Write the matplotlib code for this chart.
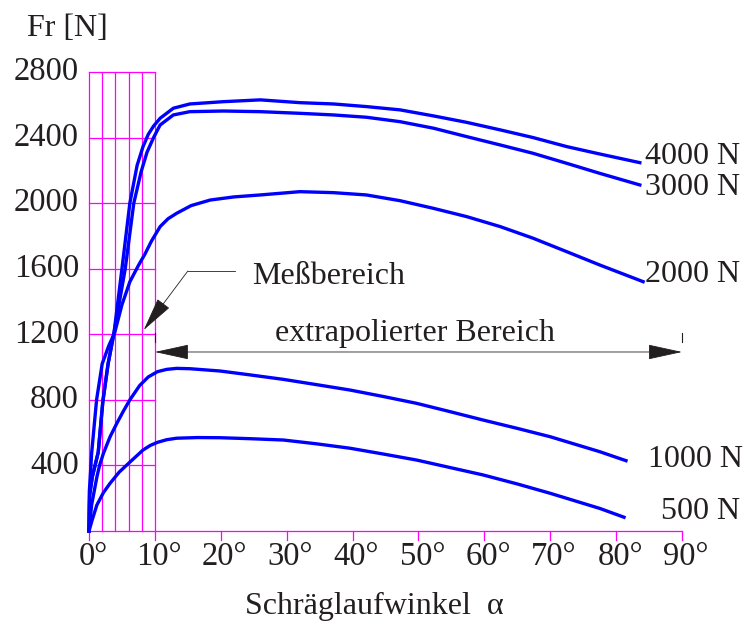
import matplotlib.pyplot as plt

# Seitenführungskraft über Schräglaufwinkel für verschiedene Radlasten
alpha_4000 = [0, 0.1, 0.5, 1.4, 2.1, 2.9, 3.8, 5.0, 6.2, 7.3, 8.2, 9.0, 9.8, 10.8, 12.8, 15.3, 20.4, 26.0, 32.0,
              37.1, 42.1, 47.2, 52.3, 57.3, 62.4, 67.4, 72.5, 77.5, 83.6]
fr_4000 = [0, 220, 330, 480, 790, 1020, 1210, 1600, 2000, 2230, 2345, 2420, 2470, 2518, 2579, 2605, 2619, 2630, 2613,
           2605, 2589, 2569, 2532, 2493, 2447, 2400, 2345, 2300, 2247]

alpha_3000 = [0, 0.1, 0.5, 1.4, 2.1, 2.9, 3.8, 5.5, 6.8, 7.9, 8.8, 9.8, 10.8, 12.8, 15.3, 20.4, 26.0, 32.0,
              37.1, 42.1, 47.2, 52.3, 57.3, 62.4, 67.4, 72.5, 77.5, 83.6]
fr_3000 = [0, 220, 330, 480, 790, 1020, 1210, 1600, 2000, 2190, 2310, 2400, 2477, 2538, 2558, 2562, 2558, 2548,
           2538, 2524, 2497, 2457, 2406, 2355, 2304, 2243, 2182, 2111]

alpha_2000 = [0, 0.05, 0.4, 1.15, 2.0, 3.0, 3.9, 5.0, 6.2, 7.5, 8.5, 9.5, 10.8, 12.0, 13.3, 15.5, 18.4, 22.0,
              26.0, 32.0, 37.1, 42.1, 47.2, 52.2, 57.3, 62.4, 67.4, 72.5, 77.5, 84.1]
fr_2000 = [0, 240, 474, 800, 1020, 1130, 1210, 1380, 1520, 1620, 1690, 1770, 1857, 1905, 1938, 1985, 2019, 2038,
           2050, 2070, 2064, 2050, 2015, 1969, 1918, 1857, 1786, 1704, 1623, 1521]

alpha_1000 = [0, 0.4, 1.2, 1.6, 2.2, 3.2, 4.2, 5.2, 6.2, 7.7, 9.0, 10.4, 11.8, 13.3, 15.3, 19.9, 24.5, 29.5,
              34.5, 39.6, 44.6, 49.7, 54.7, 59.8, 65.0, 70.0, 77.5, 81.5]
fr_1000 = [0, 160, 330, 400, 475, 575, 655, 730, 800, 888, 940, 972, 986, 992, 990, 976, 952, 925,
           893, 860, 821, 779, 729, 677, 626, 575, 484, 429]

alpha_500 = [0, 0.5, 1.2, 2.2, 3.2, 4.6, 6.2, 8.2, 9.3, 10.4, 11.8, 13.3, 16.5, 19.9, 24.5, 29.5, 34.5, 39.6,
             44.6, 49.7, 54.7, 59.8, 65.0, 70.0, 77.5, 81.2]
fr_500 = [0, 70, 159, 235, 291, 360, 420, 494, 522, 541, 557, 566, 570, 569, 563, 555, 532, 505,
          470, 433, 388, 342, 287, 230, 138, 84]

curves = [
    (alpha_4000, fr_4000, "4000 N"),
    (alpha_3000, fr_3000, "3000 N"),
    (alpha_2000, fr_2000, "2000 N"),
    (alpha_1000, fr_1000, "1000 N"),
    (alpha_500, fr_500, "500 N"),
]
label_x = [84.4, 84.4, 84.4, 84.8, 86.8]
label_y = [2282, 2093, 1562, 439, 116]

x_ticks = [0, 10, 20, 30, 40, 50, 60, 70, 80, 90]
y_ticks = [400, 800, 1200, 1600, 2000, 2400, 2800]
grid_x = [0, 2, 4, 6, 8, 10]

blue = "#0000ff"
magenta = "#ff00ff"
ink = "#231f20"
serif = "Liberation Serif"

fig = plt.figure(figsize=(7.44, 6.28), dpi=100)
ax = fig.add_axes([89 / 744, 1 - 531 / 628, (682 - 89) / 744, (531 - 72) / 628])
ax.set_xlim(0, 90)
ax.set_ylim(0, 2800)
ax.axis("off")

# Messbereich-Raster 0..10°
for gx in grid_x:
    ax.plot([gx, gx], [0, 2800], color=magenta, lw=0.9, clip_on=False)
for gy in y_ticks:
    ax.plot([0, 10], [gy, gy], color=magenta, lw=0.9, clip_on=False)
ax.plot([0, 90], [0, 0], color=magenta, lw=0.9, clip_on=False)
for tx in x_ticks:
    ax.plot([tx, tx], [0, -55], color=magenta, lw=0.9, clip_on=False)

for a, f, name in curves:
    ax.plot(a, f, color=blue, lw=2.4, solid_joinstyle="round", clip_on=False)

for (a, f, name), lx, ly in zip(curves, label_x, label_y):
    ax.text(lx, ly, name, fontsize=23, family=serif, color=ink,
            ha="left", va="center", clip_on=False)

# Achsbeschriftungen
for tx in x_ticks:
    ax.text(tx + 0.6, -160, f"{tx}°", fontsize=23.5, family=serif, color=ink,
            ha="center", va="center", clip_on=False)
for ty in y_ticks:
    ax.text(-1.5, ty, str(ty), fontsize=23.5, family=serif, color=ink,
            ha="right", va="center", clip_on=False)

fig.text(27 / 744, 1 - 28 / 628, "Fr [N]", fontsize=23, family=serif, color=ink,
         ha="left", va="center")
fig.text(245 / 744, 1 - 606 / 628, "Schräglaufwinkel  α", fontsize=23, family=serif,
         color=ink, ha="left", va="center")

# Messbereich-Hinweis
ax.plot([15.0, 22.2], [1586, 1586], color=ink, lw=0.6)
ax.annotate("", xy=(8.3, 1226), xytext=(15.0, 1586),
            arrowprops=dict(arrowstyle="-|>,head_length=1.1,head_width=0.24",
                            mutation_scale=20, color=ink, lw=0.6, shrinkA=0, shrinkB=0))
ax.text(24.7, 1550, "Meßbereich", fontsize=23, family=serif, color=ink,
        ha="left", va="center")

# Extrapolierter Bereich
ax.annotate("", xy=(10, 1092), xytext=(90, 1092),
            arrowprops=dict(arrowstyle="<|-|>,head_length=1.1,head_width=0.24",
                            mutation_scale=20, color=ink, lw=0.6, shrinkA=0, shrinkB=0))
ax.plot([10, 10], [1150, 1208], color=ink, lw=0.8)
ax.plot([90, 90], [1150, 1208], color=ink, lw=0.8, clip_on=False)
ax.text(28.2, 1205, "extrapolierter Bereich", fontsize=23, family=serif, color=ink,
        ha="left", va="center")

fig.savefig("out.png", dpi=100)
